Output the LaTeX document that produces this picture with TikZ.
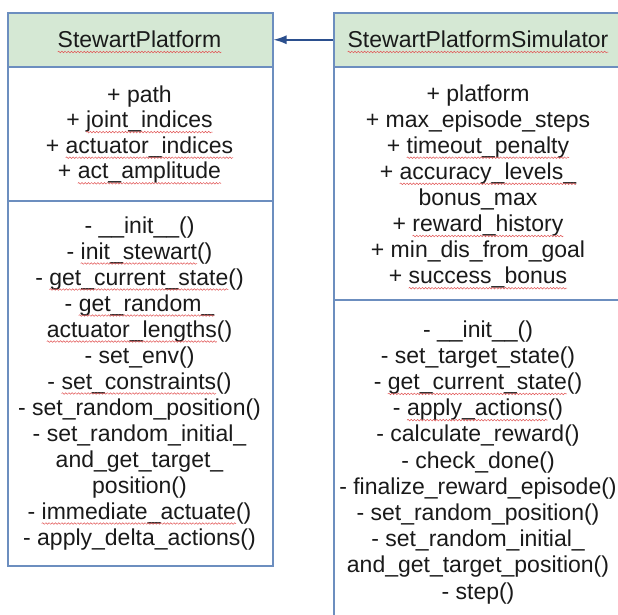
\documentclass[tikz,border=0pt]{standalone}
\usepackage{fontspec}
\setmainfont{Liberation Sans}
\usetikzlibrary{arrows.meta,decorations.pathmorphing}
\definecolor{boxline}{HTML}{6C8EBF}
\definecolor{headfill}{HTML}{D5E8D4}
\definecolor{arrowcol}{HTML}{2B4F8E}
\definecolor{sqcol}{HTML}{E25555}
\definecolor{txt}{HTML}{1A1A1A}
\newcommand\sq[1]{\tikz[baseline=(sqw.base)]{\node[inner sep=0pt,outer sep=0pt,anchor=base](sqw){#1};\draw[overlay,sqcol,line width=0.5pt,decorate,decoration={snake,amplitude=0.8pt,segment length=3.2pt}]([yshift=-4.5pt]sqw.base west)--([yshift=-4.5pt]sqw.base east);}}
\tikzset{
  classbox/.style={draw=boxline,line width=1.5pt,fill=white,inner sep=0pt,anchor=north west},
  headbox/.style={draw=boxline,line width=1.5pt,fill=headfill,inner sep=0pt,anchor=north west},
  divider/.style={draw=boxline,line width=1.5pt},
  txtline/.style={inner sep=0pt,anchor=base,text=txt,font=\fontsize{23}{26}\selectfont},
  assoc/.style={draw=arrowcol,line width=1.5pt,-{Latex[length=13pt,width=9pt]}}
}
\begin{document}
\begin{tikzpicture}[x=1pt,y=-1pt]
\useasboundingbox (0,0) rectangle (618,614);
\clip (0,0) rectangle (618,614);
% left class
\node[classbox,minimum width=265pt,minimum height=553pt] (L) at (7,12) {};
\node[headbox,minimum width=265pt,minimum height=54pt] (Lh) at (7,12) {};
\draw[divider] (L.west |- 0,201) -- (L.east |- 0,201);
% right class
\node[classbox,minimum width=290pt,minimum height=640pt] (R) at (333,12) {};
\node[headbox,minimum width=290pt,minimum height=54pt] (Rh) at (333,12) {};
\draw[divider] (R.west |- 0,300) -- (R.east |- 0,300);
% titles
\node[txtline] (lt) at (139.5,47.5) {\sq{StewartPlatform}};
\node[txtline] (rt) at (478,47.5) {\sq{StewartPlatformSimulator}};
% left attributes
\foreach [count=\i] \t in {+ path,+ \sq{joint\_indices},+ \sq{actuator\_indices},+ \sq{act\_amplitude}}
  \node[txtline] (la\i) at (139.5,{102+25.6*(\i-1)}) {\t};
% left methods
\foreach [count=\i] \t in {- \_\_init\_\_(),- \sq{init\_stewart}(),- \sq{get\_current\_state}(),- \sq{get\_random\_},\sq{actuator\_lengths}(),- set\_env(),- \sq{set\_constraints}(),- set\_random\_position(),- set\_random\_initial\_,and\_get\_target\_,position(),- \sq{immediate\_actuate}(),- apply\_delta\_actions()}
  \node[txtline] (lm\i) at (139.5,{233+26*(\i-1)}) {\t};
% right attributes
\foreach [count=\i] \t in {+ platform,+ max\_episode\_steps,+ \sq{timeout\_penalty},+ \sq{accuracy\_levels\_},bonus\_max,+ \sq{reward\_history},+ min\_dis\_from\_goal,+ \sq{success\_bonus}}
  \node[txtline] (ra\i) at (478,{101+26.1*(\i-1)}) {\t};
% right methods
\foreach [count=\i] \t in {- \_\_init\_\_(),- set\_target\_state(),- \sq{get\_current\_state}(),- \sq{apply\_actions}(),- calculate\_reward(),- check\_done(),- finalize\_reward\_episode(),- set\_random\_position(),- set\_random\_initial\_,and\_get\_target\_position(),- step()}
  \node[txtline] (rm\i) at (478,{337+26.2*(\i-1)}) {\t};
% association
\draw[assoc] (Rh.west) -- (Lh.east);
\end{tikzpicture}
\end{document}
